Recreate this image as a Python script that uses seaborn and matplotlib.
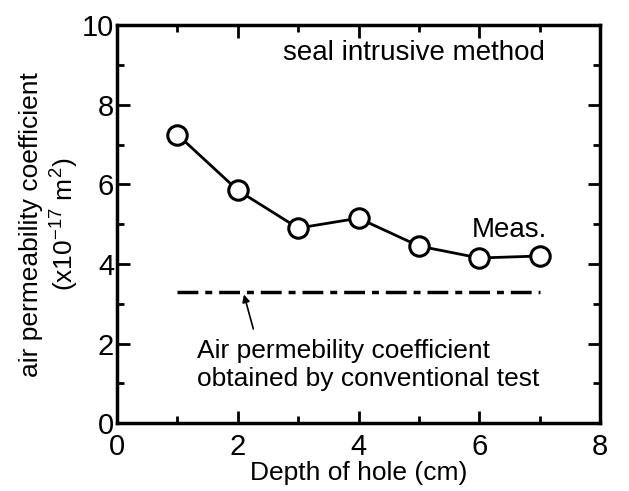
import matplotlib
matplotlib.use('Agg')
import matplotlib.pyplot as plt
import seaborn as sns
import pandas as pd
from matplotlib.ticker import MultipleLocator

depth = [1, 2, 3, 4, 5, 6, 7]
meas = [7.25, 5.85, 4.9, 5.15, 4.45, 4.15, 4.2]
conv_x = [1, 7]
conv_y = [3.3, 3.3]

sns.set_style('ticks', {'text.color': 'black', 'axes.labelcolor': 'black',
                        'xtick.color': 'black', 'ytick.color': 'black',
                        'axes.edgecolor': 'black'})
plt.rcParams['font.family'] = ['Liberation Sans', 'DejaVu Sans']
plt.rcParams['mathtext.fontset'] = 'custom'
plt.rcParams['mathtext.rm'] = 'Liberation Sans'
plt.rcParams['mathtext.it'] = 'Liberation Sans'

fig = plt.figure(figsize=(6.29, 4.91), dpi=100)
ax = fig.add_axes([0.186, 0.138, 0.768, 0.811])

df = pd.DataFrame({'depth': depth, 'meas': meas})
sns.lineplot(data=df, x='depth', y='meas', ax=ax, color='black', linewidth=2,
             marker='o', markersize=14, markerfacecolor='white',
             markeredgecolor='black', markeredgewidth=2.2)
ax.plot(conv_x, conv_y, color='black', linewidth=2.5, dashes=(6, 2, 2, 2))

ax.set_xlim(0, 8)
ax.set_ylim(0, 10)
ax.xaxis.set_major_locator(MultipleLocator(2))
ax.xaxis.set_minor_locator(MultipleLocator(1))
ax.yaxis.set_major_locator(MultipleLocator(2))
ax.yaxis.set_minor_locator(MultipleLocator(1))
ax.tick_params(which='both', direction='in', top=True, right=True, width=2,
               labelsize=21, colors='black')
ax.tick_params(axis='x', which='major', pad=7)
ax.tick_params(axis='y', which='major', pad=2)
ax.tick_params(which='major', length=9)
ax.tick_params(which='minor', length=5)
for s in ax.spines.values():
    s.set_linewidth(2.5)
    s.set_color('black')

ax.set_xlabel('Depth of hole (cm)', fontsize=19, labelpad=0, color='black')
ax.set_ylabel('air permeability coefficient\n(x10$^{-17}$ m$^{2}$)', fontsize=19,
              labelpad=1, linespacing=1.2, color='black')

ax.text(2.75, 9.3, 'seal intrusive method', fontsize=20, va='center', color='black')
ax.text(5.88, 4.85, 'Meas.', fontsize=20, va='center', color='black')
ax.annotate('', xy=(2.09, 3.3), xytext=(2.27, 2.3),
            arrowprops=dict(arrowstyle='-|>', color='black', lw=1.2, mutation_scale=11))
ax.text(1.33, 1.46, 'Air permebility coefficient\nobtained by conventional test',
        fontsize=19, va='center', linespacing=1.2, color='black')

plt.savefig('out.png', dpi=100)
